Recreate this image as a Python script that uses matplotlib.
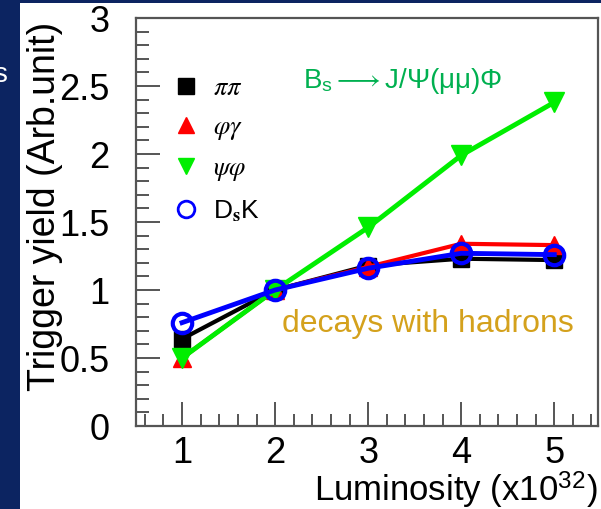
import matplotlib
matplotlib.use("Agg")
import matplotlib.pyplot as plt
from matplotlib.lines import Line2D
from matplotlib.patches import Rectangle
from matplotlib.ticker import MultipleLocator

plt.rcParams['font.family'] = ['Liberation Sans', 'DejaVu Sans']
plt.rcParams['mathtext.fontset'] = 'stix'

# ---- data ----
lumi = [1, 2, 3, 4, 5]
pipi = [0.64, 1.0, 1.18, 1.23, 1.22]
phigamma = [0.50, 1.0, 1.17, 1.34, 1.33]
psiphi = [0.50, 1.0, 1.46, 1.99, 2.38]
dsk = [0.76, 1.0, 1.16, 1.27, 1.26]

series_labels = [r'$\pi\pi$', r'$\varphi\gamma$', r'$\psi\varphi$', r'D$_{\mathbf{s}}$K']

NAVY = '#0c2461'
GREEN = '#00b050'
GOLD = '#d4a11c'

fig = plt.figure(figsize=(6.01, 5.09), dpi=100)
fig.patch.set_facecolor(NAVY)

# white slide area behind everything
fig.patches.append(Rectangle((20 / 601, 0), 1, (509 - 2.5) / 509,
                             transform=fig.transFigure, facecolor='white',
                             edgecolor='none', zorder=-5))

fig.text(-0.012, 0.853, 's', color='white', fontsize=20, va='center')

ax = fig.add_axes([136 / 601, 83 / 509, 462 / 601, 408 / 509])
ax.set_facecolor('white')

ax.plot(lumi, pipi, color='black', lw=3, marker='s', ms=12, zorder=3)
ax.plot(lumi, phigamma, color='red', lw=3, marker='^', ms=13, zorder=4)
ax.plot(lumi, psiphi, color='#00ee00', lw=3.5, marker='v', ms=14, zorder=5)
ax.plot(lumi, dsk, color='blue', lw=3.5, marker='o', ms=14, mfc='none',
        mew=3, zorder=6)

ax.set_xlim(0.505, 5.47)
ax.set_ylim(0, 3)
ax.xaxis.set_major_locator(MultipleLocator(1))
ax.xaxis.set_minor_locator(MultipleLocator(0.2))
ax.set_yticks([0, 0.5, 1, 1.5, 2, 2.5, 3])
ax.set_yticklabels(['0', '0.5', '1', '1.5', '2', '2.5', '3'])
ax.yaxis.set_minor_locator(MultipleLocator(0.1))

for s in ax.spines.values():
    s.set_color('#555555')
    s.set_linewidth(1.6)
ax.tick_params(which='both', direction='in', color='#555555', width=1.4,
               top=False, right=False, labelsize=26)
ax.tick_params(which='major', length=17)
ax.tick_params(which='minor', length=9)
ax.tick_params(axis='y', pad=19)
ax.tick_params(axis='x', pad=7)

fig.text(45 / 601, (509 - 22) / 509, 'Trigger yield (Arb.unit)',
         rotation=90, ha='center', va='top', fontsize=27)
fig.text(598 / 601, (509 - 489) / 509, r'Luminosity (x10$^{\mathregular{32}}$)',
         ha='right', va='center', fontsize=25)

ax.text(0.362, 0.845, r'B$_{\mathregular{s}}{\longrightarrow}$J/Ψ(μμ)Φ',
        transform=ax.transAxes, color=GREEN, fontsize=20, va='center')
ax.text(0.316, 0.25, 'decays with hadrons', transform=ax.transAxes,
        color=GOLD, fontsize=23, va='center')

handles = [
    Line2D([], [], ls='none', marker='s', color='black', ms=11),
    Line2D([], [], ls='none', marker='^', color='red', ms=12),
    Line2D([], [], ls='none', marker='v', color='#00ee00', ms=12),
    Line2D([], [], ls='none', marker='o', mfc='none', mec='blue', mew=2, ms=12),
]
ax.legend(handles, series_labels, loc='upper left',
          bbox_to_anchor=(0.032, 0.915), frameon=False, fontsize=19,
          handlelength=0.9, handletextpad=0.55, labelspacing=0.55)

fig.savefig('out.png', dpi=100, facecolor=fig.get_facecolor())
